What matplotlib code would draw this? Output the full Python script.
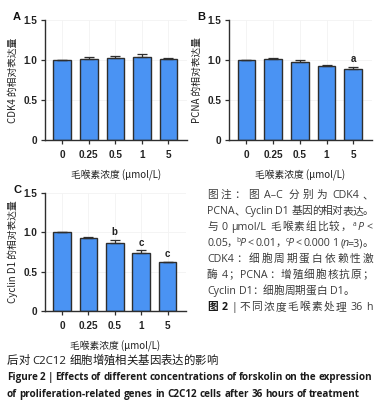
import re
import matplotlib
matplotlib.use("Agg")
import matplotlib.pyplot as plt

W, H = 388, 413

doses = ["0", "0.25", "0.5", "1", "5"]
cdk4 = [1.00, 1.01, 1.02, 1.04, 1.01]
cdk4_err = [0.0, 0.025, 0.035, 0.035, 0.015]
pcna = [1.00, 1.01, 0.97, 0.93, 0.89]
pcna_err = [0.0, 0.015, 0.035, 0.01, 0.025]
pcna_sig = ["", "", "", "", "a"]
ccnd1 = [1.00, 0.93, 0.87, 0.74, 0.62]
ccnd1_err = [0.0, 0.01, 0.035, 0.035, 0.008]
ccnd1_sig = ["", "", "b", "c", "c"]

BAR = "#4a93f3"
EDGE = "#2e2e2e"
LAT = ["Open Sans", "Noto Sans CJK SC"]
CJK = ["Noto Sans CJK SC", "Open Sans"]
TICKF = ["Liberation Sans", "DejaVu Sans"]

fig = plt.figure(figsize=(W / 100, H / 100), dpi=100)


def panel(rect, vals, errs, sig, ylabel, letter):
    l, t, r, b = rect
    ax = fig.add_axes([l / W, 1 - b / H, (r - l) / W, (b - t) / H])
    x = range(len(vals))
    ax.bar(x, vals, width=0.66, color=BAR, edgecolor=EDGE, linewidth=1.0, zorder=2)
    ax.errorbar(x, vals, yerr=[[0] * len(errs), errs], fmt="none", ecolor=EDGE,
                elinewidth=0.9, capsize=3.5, capthick=0.9, zorder=3)
    for i, s in enumerate(sig):
        if s:
            ax.text(i, vals[i] + errs[i] + 0.03, s, ha="center", va="bottom",
                    fontsize=7, fontweight="bold", family=TICKF, color="#222222")
    ax.set_xlim(-0.65, 4.7)
    ax.set_ylim(0, 1.5)
    ax.set_yticks([0, 0.5, 1.0, 1.5])
    ax.set_yticklabels(["0", "0.5", "1.0", "1.5"])
    ax.set_xticks(list(x))
    ax.set_xticklabels(doses)
    for lab in ax.get_xticklabels() + ax.get_yticklabels():
        lab.set_family(TICKF)
        lab.set_fontweight("bold")
        lab.set_fontsize(7.2)
        lab.set_color("#222222")
    ax.tick_params(direction="out", length=3, width=0.9, color=EDGE, pad=2.5)
    ax.tick_params(axis="x", pad=4)
    for sp in ["top", "right"]:
        ax.spines[sp].set_visible(False)
    for sp in ["left", "bottom"]:
        ax.spines[sp].set_color(EDGE)
        ax.spines[sp].set_linewidth(1.0)
    ax.grid(True, color="#f3f3f3", linewidth=0.6, zorder=0)
    ax.set_axisbelow(True)
    ax.set_ylabel(ylabel, family=CJK, fontsize=7, labelpad=4, color="#222222")
    ax.set_xlabel("毛喉素浓度 (μmol/L)", family=CJK, fontsize=7, labelpad=7, color="#222222")
    fig.text((l - 32) / W, 1 - (t - 3) / H, letter, fontsize=8, fontweight="bold",
             family=TICKF, va="center", ha="left", color="#111111")
    return ax


panel((45, 20, 187, 140), cdk4, cdk4_err, [""] * 5, "CDK4 的相对表达量", "A")
panel((229, 20, 372, 140), pcna, pcna_err, pcna_sig, "PCNA 的相对表达量", "B")
panel((45, 193, 186, 311), ccnd1, ccnd1_err, ccnd1_sig, "Cyclin D1 的相对表达量", "C")

renderer = fig.canvas.get_renderer()
TOK = re.compile(r"[A-Za-z0-9.μ/=()<\-–|]+|\S")


def put_line(x, y, segs, size, width=None, color="#3a3a3a", fit=False):
    # segs: list of (text, options); tokens are placed left to right
    items = []
    for text, opt in segs:
        for m in TOK.finditer(text):
            items.append((m.group(0), opt, m.start() > 0 and text[m.start() - 1] == " "))
    arts = []
    for tok, opt, sp in items:
        fs = size * 0.62 if opt.get("sup") else size
        t = fig.text(0, 0, tok, fontsize=fs, family=opt.get("family", LAT),
                     fontweight=opt.get("weight", "normal"),
                     style=opt.get("style", "normal"), color=opt.get("color", color),
                     va="baseline", ha="left")
        arts.append((t, opt, sp))

    def measure(sz):
        ws = [a[0].get_window_extent(renderer).width for a in arts]
        gs = [sz * 1.389 * 0.26 if a[2] else 0.0 for a in arts[1:]]
        return ws, gs

    widths, gaps = measure(size)
    total = sum(widths) + sum(gaps)
    if fit and width is not None:
        size = size * width / total
        for t, opt, sp in arts:
            t.set_fontsize(size * 0.62 if opt.get("sup") else size)
        widths, gaps = measure(size)
        total = sum(widths) + sum(gaps)
    extra = 0.0
    if width is not None and len(arts) > 1:
        extra = (width - total) / (len(arts) - 1)
    cx = x
    for i, (t, opt, sp) in enumerate(arts):
        dy = size * 0.55 if opt.get("sup") else 0
        t.set_position((cx / W, 1 - (y - dy) / H))
        cx += widths[i]
        if i < len(arts) - 1:
            cx += gaps[i] + extra
    return size


N = {}
B = {"weight": "bold", "color": "#1a1a1a"}
I = {"style": "italic"}
S = {"sup": True}
cap_x, cap_w = 207, 166
cs = 7.7
put_line(cap_x, 198, [("图注：图 A–C 分别为 CDK4、", N)], cs, cap_w)
put_line(cap_x, 214, [("PCNA、Cyclin D1 基因的相对表达。", N)], cs, cap_w)
put_line(cap_x, 230, [("与 0 μmol/L 毛喉素组比较，", N), ("a", S), ("P", I), (" <", N)], cs, cap_w)
put_line(cap_x, 246, [("0.05，", N), ("b", S), ("P", I), (" < 0.01，", N), ("c", S), ("P", I),
                      (" < 0.000 1 (", N), ("n", I), ("=3)。", N)], cs, cap_w)
put_line(cap_x, 262, [("CDK4：细胞周期蛋白依赖性激", N)], cs, cap_w)
put_line(cap_x, 278, [("酶 4；PCNA：增殖细胞核抗原；", N)], cs, cap_w)
put_line(cap_x, 294, [("Cyclin D1：细胞周期蛋白 D1。", N)], cs)
put_line(cap_x, 310, [("图 2", B), (" | ", N), ("不同浓度毛喉素处理 36 h", N)], cs, cap_w)

put_line(7, 364, [("后对 C2C12 细胞增殖相关基因表达的影响", {"color": "#1a1a1a"})], 8.2)
es = put_line(7, 380, [("Figure 2 | Effects of different concentrations of forskolin on the expression", B)],
              7.0, 365, fit=True)
put_line(7, 397, [("of proliferation-related genes in C2C12 cells after 36 hours of treatment", B)], es)

fig.savefig("out.png", dpi=100)
